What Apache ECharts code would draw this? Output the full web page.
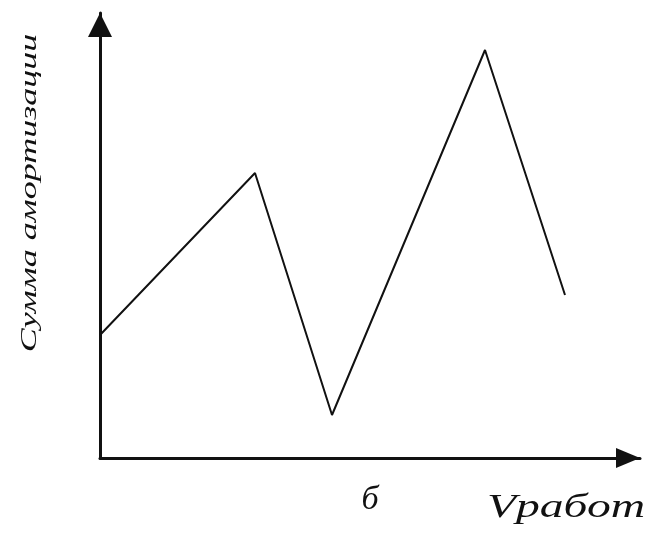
<!DOCTYPE html>
<html>
<head>
<meta charset="utf-8">
<script src="https://cdn.jsdelivr.net/npm/echarts@6/dist/echarts.min.js"></script>
<style>
  html, body { margin: 0; padding: 0; background: #fff; }
  #chart { width: 653px; height: 534px; }
</style>
</head>
<body>
<div id="chart"></div>
<script>
// points of the broken line (arbitrary units)
const xValues = [0, 155, 232, 385, 465];
const yValues = [123, 285, 43, 408, 163];
const yTitle = 'Сумма амортизации';
const xTitle = 'Vработ';
const panelLabel = 'б';

const myChart = echarts.init(document.getElementById('chart'), null, { renderer: 'canvas' });

const option = {
    animation: false,
    grid: {
        left: 100,
        right: 13,
        top: 13,
        bottom: 76
    },
    xAxis: {
        type: 'value',
        min: 0,
        max: 540,
        splitLine: { show: false },
        axisTick: { show: false },
        axisLabel: { show: false },
        axisLine: {
            show: true,
            onZero: false,
            symbol: ['none', 'triangle'],
            symbolSize: [20, 24],
            symbolOffset: [0, -12],
            lineStyle: { color: '#111', width: 3 }
        }
    },
    yAxis: {
        type: 'value',
        min: 0,
        max: 445,
        splitLine: { show: false },
        axisTick: { show: false },
        axisLabel: { show: false },
        axisLine: {
            show: true,
            symbol: ['none', 'triangle'],
            symbolSize: [24, 24],
            symbolOffset: [0, -12],
            lineStyle: { color: '#111', width: 3 }
        }
    },
    graphic: [
        {
            type: 'text',
            x: 30,
            y: 193,
            rotation: Math.PI / 2,
            style: {
                text: yTitle,
                font: 'italic 24px "Liberation Serif"',
                fill: '#111',
                align: 'center',
                verticalAlign: 'middle'
            },
            scaleX: 1.5
        },
        {
            type: 'text',
            x: 370,
            y: 500,
            style: {
                text: panelLabel,
                font: 'italic 34px "Liberation Serif"',
                fill: '#111',
                align: 'center',
                verticalAlign: 'middle'
            }
        },
        {
            type: 'text',
            x: 566,
            y: 508,
            style: {
                text: xTitle,
                font: 'italic 34px "Liberation Serif"',
                fill: '#111',
                align: 'center',
                verticalAlign: 'middle'
            },
            scaleX: 1.4
        }
    ],
    series: [
        {
            type: 'line',
            data: xValues.map((x, i) => [x, yValues[i]]),
            symbol: 'none',
            lineStyle: { color: '#111', width: 2 }
        }
    ]
};

myChart.setOption(option, true);
</script>
</body>
</html>
